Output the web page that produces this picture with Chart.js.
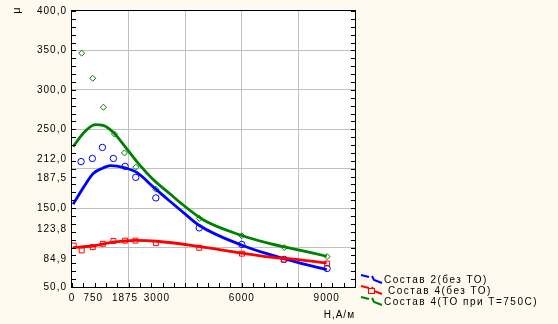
<!DOCTYPE html>
<html>
<head>
<meta charset="utf-8">
<script src="https://cdn.jsdelivr.net/npm/chart.js@4"></script>
<style>
  html, body { margin: 0; padding: 0; background: #fffaf0; }
  canvas { display: block; }
</style>
</head>
<body>
<canvas id="grafico" width="558" height="324"></canvas>
<script>
// ============================
// DADOS
// ============================
const rotulosSerie = ['Состав 2(без ТО)', 'Состав 4(без ТО)', 'Состав 4(ТО при Т=750С)'];

// pontos medidos
const hAzulPts = [320, 720, 1075, 1463, 1876, 2253, 2962, 4496, 6000, 7500, 9015];
const muAzulPts = [209, 213, 227, 213, 203, 189, 163, 125, 104, 85, 73.5];

const hVermPts = [60, 342, 733, 1090, 1463, 1876, 2240, 2962, 4496, 6007, 7480, 9015];
const muVermPts = [102.5, 96.4, 100.5, 104.8, 108.5, 108.8, 108.8, 105.6, 99.8, 92.3, 84.8, 79.8];

const hVerdePts = [342, 733, 1109, 1498, 1853, 2253, 2962, 4500, 6000, 7500, 9015];
const muVerdePts = [346.5, 314.7, 278, 244, 220, 202, 174, 137, 115, 100, 88.5];

// curvas ajustadas
const hAzulCurva = [40, 400, 750, 1100, 1350, 1875, 2300, 2900, 3450, 3850, 4500, 6000, 7000, 8000, 9000];
const muAzulCurva = [155, 176, 194, 201, 204, 201, 195, 176, 159, 147, 128, 103, 91, 81, 72];

const hVermCurva = [40, 700, 1463, 2250, 3000, 4472, 6000, 7000, 8000, 9000];
const muVermCurva = [100, 102, 107, 109, 108, 101.5, 93, 88, 84.8, 80.5];

const hVerdeCurva = [40, 400, 814, 1100, 1463, 1876, 2290, 2878, 3469, 3823, 4648, 5947, 7000, 8000, 9000];
const muVerdeCurva = [228, 245, 256, 255, 246, 228, 209, 186, 168, 157, 135, 116, 105, 97, 89];

// eixos
const ticksY = [50, 84.9, 100, 123.8, 150, 187.5, 200, 212, 250, 300, 350, 400];
const rotulosY = [50, 84.9, 123.8, 150, 187.5, 212, 250, 300, 350, 400];
const gradeY = [100, 150, 200, 250, 300, 350];
const ticksX = [0, 750, 1875, 2000, 3000, 4000, 6000, 8000, 9000];
const rotulosX = [0, 750, 1875, 3000, 6000, 9000];
const gradeX = [2000, 4000, 6000, 8000];

const AZUL = '#0000ff', VERMELHO = '#ff0000', VERDE = '#008000';
const FONTE = 'Liberation Sans, Arial, sans-serif';

const pares = (xs, ys) => xs.map((x, i) => ({ x, y: ys[i] }));

// ============================
// PLUGIN: fundo, moldura, legenda
// ============================
const molduraPlugin = {
    id: 'moldura',
    beforeDraw(chart) {
        const { ctx, chartArea: a } = chart;
        ctx.save();
        ctx.fillStyle = '#ffffff';
        ctx.fillRect(a.left, a.top, a.right - a.left, a.bottom - a.top);
        ctx.restore();
        ctx.letterSpacing = '1px';
    },
    afterDraw(chart) {
        const { ctx, chartArea: a, scales } = chart;
        ctx.save();
        ctx.strokeStyle = '#000';
        ctx.lineWidth = 1;
        ctx.strokeRect(a.left - 0.5, a.top - 0.5, a.right - a.left + 1, a.bottom - a.top + 1);

        // marcas menores
        ctx.beginPath();
        for (let v = 50; v <= 400; v += 10) {
            const y = Math.round(scales.y.getPixelForValue(v)) + 0.5;
            ctx.moveTo(a.left, y); ctx.lineTo(a.left + 4, y);
            ctx.moveTo(a.right - 4, y); ctx.lineTo(a.right, y);
        }
        for (let v = 0; v <= 10000; v += 400) {
            const x = Math.round(scales.x.getPixelForValue(v)) + 0.5;
            ctx.moveTo(x, a.bottom); ctx.lineTo(x, a.bottom - 4);
        }
        ctx.stroke();

        // título do eixo y (μ)
        ctx.fillStyle = '#000';
        ctx.font = '11px ' + FONTE;
        ctx.translate(17, 10);
        ctx.rotate(-Math.PI / 2);
        ctx.textAlign = 'center';
        ctx.textBaseline = 'middle';
        ctx.fillText('μ', 0, 0);
        ctx.restore();

        // legenda
        const linhas = [
            { cor: AZUL, y: 280, xt: 384, marca: 'circulo' },
            { cor: VERMELHO, y: 291, xt: 388, marca: 'quadrado' },
            { cor: VERDE, y: 302, xt: 384, marca: 'losango' }
        ];
        ctx.save();
        ctx.font = '10px ' + FONTE;
        ctx.letterSpacing = '1.5px';
        ctx.textBaseline = 'middle';
        linhas.forEach((l, i) => {
            ctx.strokeStyle = l.cor;
            ctx.lineWidth = 2;
            ctx.beginPath();
            ctx.moveTo(361, l.y - 5);
            ctx.lineTo(369, l.y - 3);
            ctx.moveTo(372, l.y - 4);
            ctx.lineTo(374, l.y);
            ctx.lineTo(382, l.y + 3);
            ctx.stroke();
            ctx.lineWidth = 1;
            if (l.marca === 'quadrado') {
                ctx.fillStyle = '#fffaf0';
                ctx.fillRect(368, l.y - 3, 7, 6);
                ctx.strokeRect(368.5, l.y - 2.5, 6, 5);
            }
            ctx.fillStyle = '#000';
            ctx.fillText(rotulosSerie[i], l.xt, l.y);
        });
        ctx.restore();
    }
};

// ============================
// GRÁFICO
// ============================
const curva = (label, cor, xs, ys) => ({
    label, data: pares(xs, ys), showLine: true, borderColor: cor, borderWidth: 2.8,
    pointRadius: 0, cubicInterpolationMode: 'monotone', fill: false
});
const pontos = (label, cor, xs, ys, estilo, raio) => ({
    label, data: pares(xs, ys), showLine: false, borderColor: cor, backgroundColor: 'rgba(0,0,0,0)',
    pointStyle: estilo, pointRadius: raio, pointBorderWidth: 1
});

new Chart(document.getElementById('grafico'), {
    type: 'scatter',
    data: {
        datasets: [
            curva(rotulosSerie[1], VERMELHO, hVermCurva, muVermCurva),
            pontos(rotulosSerie[1], VERMELHO, hVermPts, muVermPts, 'rect', 3.5),
            curva(rotulosSerie[0], AZUL, hAzulCurva, muAzulCurva),
            pontos(rotulosSerie[0], AZUL, hAzulPts, muAzulPts, 'circle', 3.2),
            curva(rotulosSerie[2], VERDE, hVerdeCurva, muVerdeCurva),
            pontos(rotulosSerie[2], VERDE, hVerdePts, muVerdePts, 'rectRot', 3)
        ]
    },
    options: {
        responsive: false,
        animation: false,
        layout: { padding: { left: 0, top: 8, right: 203, bottom: 0 } },
        plugins: { legend: { display: false }, tooltip: { enabled: false } },
        scales: {
            x: {
                type: 'linear', min: 0, max: 10000,
                afterBuildTicks: s => { s.ticks = ticksX.map(v => ({ value: v })); },
                afterFit: s => { s.height = 37; },
                border: { display: false },
                grid: {
                    drawTicks: false,
                    color: c => gradeX.includes(c.tick.value) ? '#c0c0c0' : 'rgba(0,0,0,0)'
                },
                ticks: {
                    padding: 5, color: '#000', font: { family: FONTE, size: 10 },
                    maxRotation: 0, autoSkip: false,
                    callback: v => rotulosX.includes(v) ? String(v) : ''
                },
                title: {
                    display: true, text: 'H,A/м', align: 'end', color: '#000',
                    font: { family: FONTE, size: 10 }, padding: { top: 0, bottom: 3 }
                }
            },
            y: {
                type: 'linear', min: 50, max: 400,
                afterBuildTicks: s => { s.ticks = ticksY.map(v => ({ value: v })); },
                afterFit: s => { s.width = 72; },
                border: { display: false },
                grid: {
                    drawTicks: false,
                    color: c => gradeY.includes(c.tick.value) ? '#c0c0c0' : 'rgba(0,0,0,0)'
                },
                ticks: {
                    padding: 5, color: '#000', font: { family: FONTE, size: 10 }, autoSkip: false,
                    callback: v => rotulosY.includes(v) ? v.toFixed(1).replace('.', ',') : ''
                }
            }
        }
    },
    plugins: [molduraPlugin]
});
</script>
</body>
</html>
